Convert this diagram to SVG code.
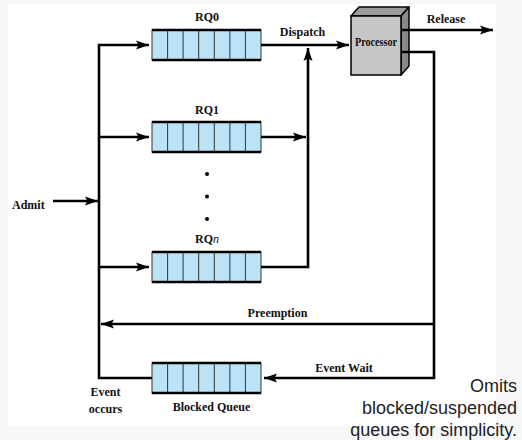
<svg xmlns="http://www.w3.org/2000/svg" xmlns:xlink="http://www.w3.org/1999/xlink" width="522" height="440" viewBox="0 0 522 440">
  <style>
    .lbl { font-family: "Liberation Serif", "Times New Roman", serif; font-weight: bold; font-size: 12px; fill: #111; }
    .note { font-family: "Liberation Sans", Arial, sans-serif; font-size: 18px; fill: #222; text-anchor: end; }
    .wire { fill: none; stroke: #000; stroke-width: 2.6; stroke-linejoin: miter; stroke-linecap: butt; }
    .arr { marker-end: url(#head); }
    .cell { stroke: #333; stroke-width: 1; }
  </style>
  <defs>
    <marker id="head" markerUnits="userSpaceOnUse" markerWidth="14" markerHeight="10" refX="13" refY="4.5" orient="auto" overflow="visible">
      <path d="M0,0 L13,4.5 L0,9 L2.5,4.5 z" fill="#000"/>
    </marker>
    <!-- seven-slot queue, 109 x 30 -->
    <g id="queue">
      <rect x="0" y="0" width="109" height="30" fill="#bbe3f7" class="cell"/>
      <path class="cell" d="M15.6,0 V30 M31.1,0 V30 M46.7,0 V30 M62.3,0 V30 M77.9,0 V30 M93.4,0 V30"/>
      <path d="M0,0 H109 M0,30 H109" stroke="#000" stroke-width="2.6"/>
    </g>
  </defs>

  <rect x="0" y="0" width="522" height="440" fill="#f7f7f7"/>
  <rect x="8" y="4" width="488" height="422" fill="#ffffff"/>

  <g id="rq0">
    <use xlink:href="#queue" x="152" y="30"/>
    <text class="lbl" x="207" y="21" text-anchor="middle">RQ0</text>
  </g>
  <g id="rq1">
    <use xlink:href="#queue" x="152" y="122"/>
    <text class="lbl" x="207" y="114" text-anchor="middle">RQ1</text>
  </g>
  <g id="ellipsis">
    <circle cx="207" cy="174" r="2" fill="#000"/>
    <circle cx="207" cy="196.5" r="2" fill="#000"/>
    <circle cx="207" cy="219" r="2" fill="#000"/>
  </g>
  <g id="rqn">
    <use xlink:href="#queue" x="152" y="252"/>
    <text class="lbl" x="207" y="243" text-anchor="middle">RQ<tspan font-style="italic" font-weight="normal">n</tspan></text>
  </g>
  <g id="blocked">
    <use xlink:href="#queue" x="152" y="363"/>
    <text class="lbl" x="211.5" y="411" text-anchor="middle">Blocked Queue</text>
  </g>
  <g id="processor">
    <polygon points="351,16 359,7 409,7 401,16" fill="#9c9c9c" stroke="#000" stroke-width="1.5" stroke-linejoin="round"/>
    <polygon points="401,16 409,7 409,66 401,75" fill="#8a8a8a" stroke="#000" stroke-width="1.5" stroke-linejoin="round"/>
    <rect x="351" y="16" width="50" height="59" fill="#c6c6c6" stroke="#000" stroke-width="1.5"/>
    <text class="lbl" x="355" y="46" font-size="9.5" textLength="42" lengthAdjust="spacingAndGlyphs">Processor</text>
  </g>

  <g id="connectors">
    <!-- admission trunk feeding ready queues; blocked queue returns to it -->
    <path class="wire arr" d="M152,378 H99 V45 H149"/>
    <path class="wire arr" d="M99,137 H149"/>
    <path class="wire arr" d="M99,267 H149"/>
    <path class="wire arr" d="M53,201 H98"/>
    <!-- dispatch -->
    <path class="wire arr" d="M261,45 H349"/>
    <path class="wire arr" d="M261,267 H308 V48"/>
    <path class="wire arr" d="M261,137 H306"/>
    <!-- processor outputs -->
    <path class="wire arr" d="M401,30 H493"/>
    <path class="wire arr" d="M401,52 H434 V378 H264"/>
    <path class="wire arr" d="M434,324 H101"/>
  </g>

  <g id="labels">
    <text class="lbl" x="12" y="209">Admit</text>
    <text class="lbl" x="302.5" y="36" text-anchor="middle">Dispatch</text>
    <text class="lbl" x="446" y="23" text-anchor="middle">Release</text>
    <text class="lbl" x="277.5" y="317" text-anchor="middle">Preemption</text>
    <text class="lbl" x="344" y="372" text-anchor="middle">Event Wait</text>
    <text class="lbl" x="105.5" y="396" text-anchor="middle">Event</text>
    <text class="lbl" x="105.5" y="412.5" text-anchor="middle">occurs</text>
  </g>

  <g id="note">
    <text class="note" x="517" y="392">Omits</text>
    <text class="note" x="517" y="414">blocked/suspended</text>
    <text class="note" x="517" y="436">queues for simplicity.</text>
  </g>
</svg>
